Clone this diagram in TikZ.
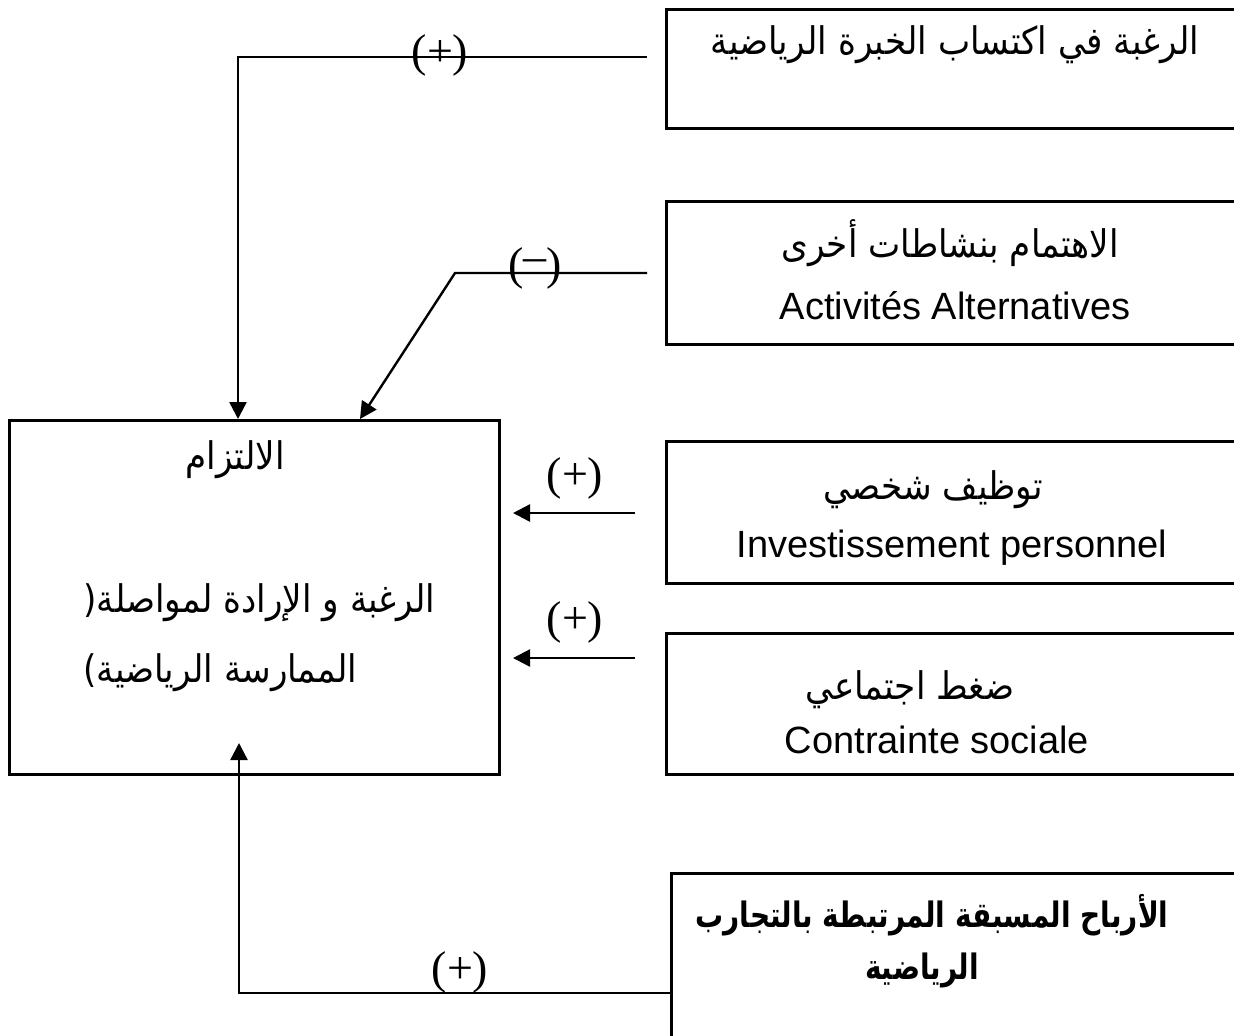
\documentclass[tikz,border=0pt]{standalone}
\usepackage{fontspec}
\setmainfont{Liberation Sans}
\newfontfamily\arabicfont[Script=Arabic,FakeStretch=0.9]{DejaVu Sans}
\newfontfamily\arabicbold[Script=Arabic,FakeStretch=0.8]{DejaVu Sans Bold}
\newfontfamily\signfont{Liberation Serif}
\TeXXeTstate=1
\usetikzlibrary{arrows.meta}

\tikzset{
  box/.style={draw, line width=1.4pt, inner sep=0pt, anchor=north west},
  link/.style={line width=1.2pt},
  arr/.style={link, -{Triangle[length=8.5pt,width=8.5pt]}},
  artext/.style={font=\arabicfont\fontsize{19}{22}\selectfont, inner sep=0pt},
  boldtext/.style={font=\arabicbold\fontsize{17.5}{21}\selectfont, inner sep=0pt},
  frtext/.style={font=\fontsize{19}{23}\selectfont, inner sep=0pt},
  sign/.style={font=\signfont\fontsize{23}{27}\selectfont, inner sep=0pt},
}

\begin{document}
\begin{tikzpicture}[x=0.5pt,y=-0.5pt]
        \clip (0,0) rectangle (1234,1035);

        % Draw the boxes
        \node[box, minimum width=245pt, minimum height=177pt] (commit) at (8,419) {};
        \node[box, minimum width=290pt, minimum height=59.5pt] (desire) at (665,8) {};
        \node[box, minimum width=290pt, minimum height=71.5pt] (other) at (665,200) {};
        \node[box, minimum width=290pt, minimum height=71pt] (invest) at (665,440) {};
        \node[box, minimum width=290pt, minimum height=70.5pt] (social) at (665,632) {};
        \node[box, minimum width=290pt, minimum height=90pt] (gains) at (670,872) {};

        % Texts
        \node[artext] (commit-a) at (235,460) {\beginR الالتزام\endR};
        \node[artext, anchor=west] (commit-b) at (83,603) {(\beginR الرغبة و الإرادة لمواصلة\endR};
        \node[artext, anchor=west] (commit-c) at (83,673) {)\beginR الممارسة الرياضية\endR};

        \node[artext] (desire-a) at (955,45) {\beginR الرغبة في اكتساب الخبرة الرياضية\endR};

        \node[artext] (other-a) at (950,243) {\beginR الاهتمام بنشاطات أخرى\endR};
        \node[frtext] (other-b) at (955,306) {Activités Alternatives};

        \node[artext] (invest-a) at (933,490) {\beginR توظيف شخصي\endR};
        \node[frtext] (invest-b) at (952,548) {Investissement personnel};

        \node[artext] (social-a) at (910,690) {\beginR ضغط اجتماعي\endR};
        \node[frtext] (social-b) at (937,740) {Contrainte sociale};

        \node[boldtext] (gains-a) at (932,915) {\beginR الأرباح المسبقة المرتبطة بالتجارب\endR};
        \node[boldtext] (gains-b) at (922,970) {\beginR الرياضية\endR};

        % Connectors
        \coordinate (s1) at (647,57);
        \coordinate (k1) at (238,57);
        \draw[arr] (s1) -- (k1) -- (k1 |- commit.north);

        \coordinate (s2) at (647,273);
        \coordinate (k2) at (455,273);
        \coordinate (t2) at (360,419);
        \draw[arr] (s2) -- (k2) -- (t2);

        \coordinate (s3) at (635,513);
        \coordinate (t3) at (513,513);
        \draw[arr] (s3) -- (t3);

        \coordinate (s4) at (635,658);
        \coordinate (t4) at (513,658);
        \draw[arr] (s4) -- (t4);

        \coordinate (k5) at (239,993);
        \coordinate (t5) at (239,743);
        \draw[arr] (gains.west |- k5) -- (k5) -- (t5);

        % Signs
        \node[sign] (p1) at (440,55) {(+)};
        \node[sign] (p2) at (535,268) {(\raisebox{0.35ex}{–})};
        \node[sign] (p3) at (575,478) {(+)};
        \node[sign] (p4) at (575,622) {(+)};
        \node[sign] (p5) at (460,972) {(+)};
\end{tikzpicture}
\end{document}
